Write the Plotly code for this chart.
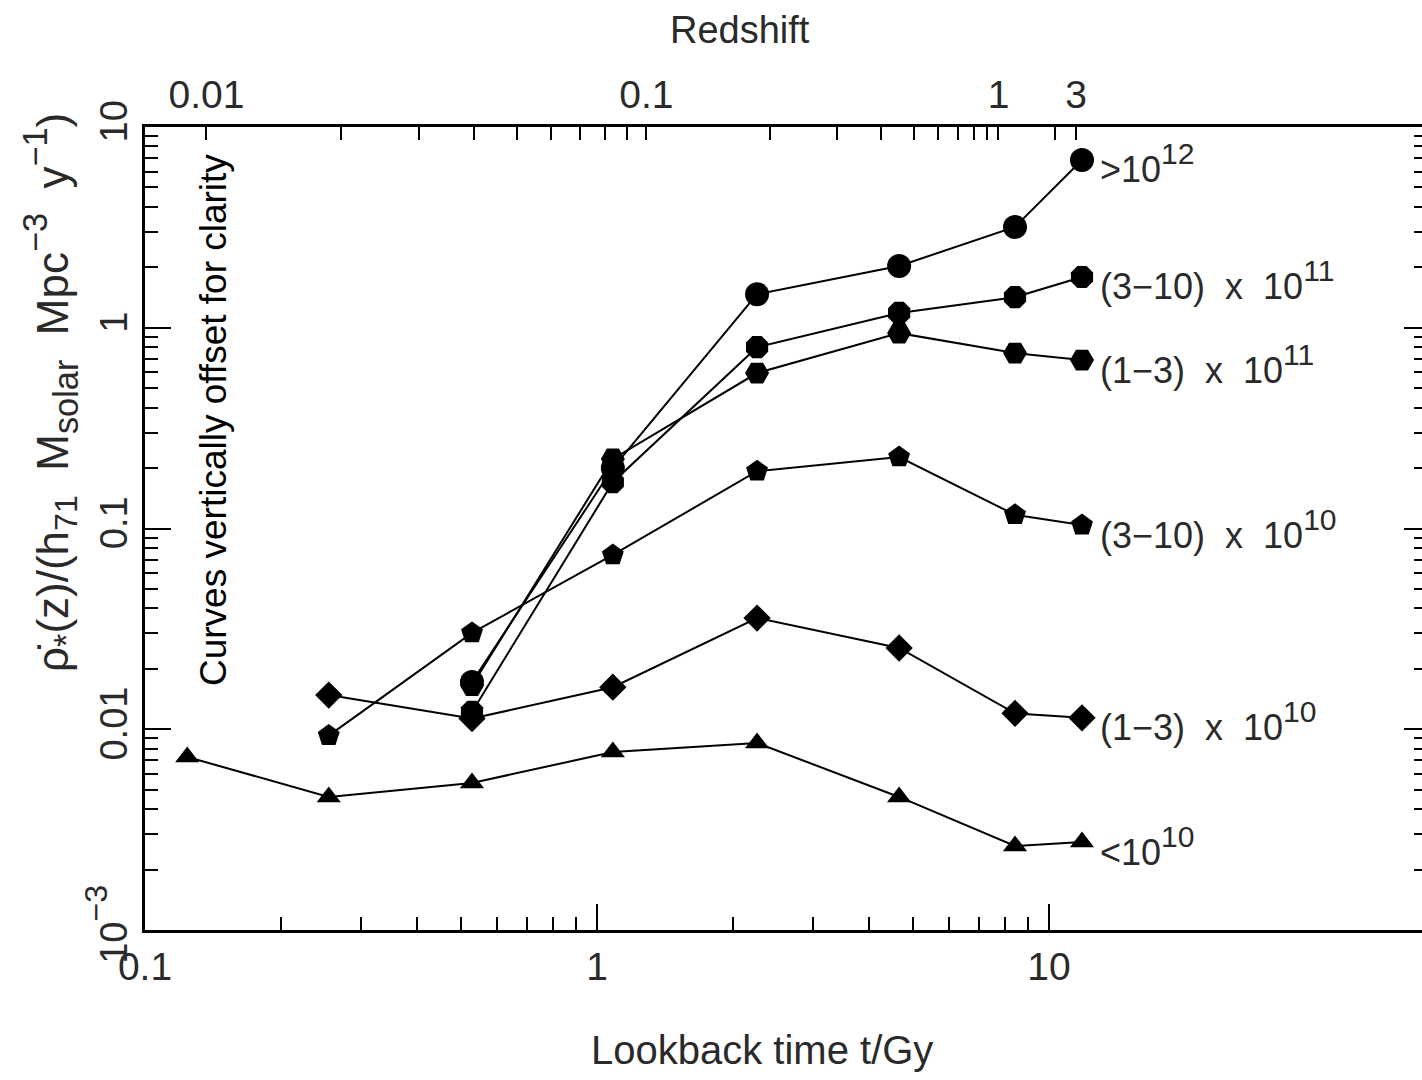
import numpy as np
import plotly.graph_objects as go

# ---------------- data ----------------
lookback_gyr = [0.124, 0.255, 0.529, 1.084, 2.26, 4.66, 8.41, 11.83]

sfr_lt_1e10 = [0.00728, 0.0046, 0.0054, 0.0077, 0.00854, 0.0046, 0.00262, 0.00274]
sfr_1_3e10 = [None, 0.0148, 0.0113, 0.0162, 0.0358, 0.0254, 0.0120, 0.0114]
sfr_3_10e10 = [None, 0.0093, 0.0302, 0.0738, 0.193, 0.227, 0.117, 0.104]
sfr_1_3e11 = [None, None, 0.0165, 0.222, 0.595, 0.94, 0.748, 0.69]
sfr_3_10e11 = [None, None, 0.0122, 0.170, 0.80, 1.185, 1.42, 1.79]
sfr_gt_1e12 = [None, None, 0.0172, 0.200, 1.47, 2.03, 3.18, 6.85]


def sup(s, size=30):
    # plotly renders <sup> at 70% of the surrounding size
    return "<span style='font-size:%dpx'><sup>%s</sup></span>" % (round(size / 0.7), s)


def sub(s, size=30):
    return "<span style='font-size:%dpx'><sub>%s</sub></span>" % (round(size / 0.7), s)


NB = "\u00a0"
series_labels = [">10" + sup("12"),
                 "(3\u221210)" + NB * 2 + "x" + NB * 2 + "10" + sup("11"),
                 "(1\u22123)" + NB * 2 + "x" + NB * 2 + "10" + sup("11"),
                 "(3\u221210)" + NB * 2 + "x" + NB * 2 + "10" + sup("10"),
                 "(1\u22123)" + NB * 2 + "x" + NB * 2 + "10" + sup("10"),
                 "<10" + sup("10")]

x_major = [0.1, 1, 10]
x_major_text = ["0.1", "1", "10"]
y_major = [0.001, 0.01, 0.1, 1, 10]
y_major_text = ["10" + sup("\u22123", 32), "0.01", "0.1", "1", "10"]

z_ticks = [0.01, 0.02, 0.03, 0.04, 0.05, 0.06, 0.07, 0.08, 0.09,
           0.1, 0.2, 0.3, 0.4, 0.5, 0.6, 0.7, 0.8, 0.9, 1, 2, 3]
z_labeled = {0.01: "0.01", 0.1: "0.1", 1: "1", 3: "3"}

# ---------------- cosmology for the redshift axis ----------------
H0, Om = 71.0, 0.27
hubble_time = 977.8 / H0  # Gyr


def lookback(z):
    zz = np.linspace(0, z, 4000)
    integrand = 1.0 / ((1 + zz) * np.sqrt(Om * (1 + zz) ** 3 + (1 - Om)))
    return hubble_time * np.trapezoid(integrand, zz)


z_tick_t = [lookback(z) for z in z_ticks]
z_tick_text = [z_labeled.get(z, "") for z in z_ticks]

minor_decade = [2, 3, 4, 5, 6, 7, 8, 9]
x_minor = [m * d for d in [0.1, 1] for m in minor_decade]
y_minor = [m * d for d in [0.001, 0.01, 0.1, 1] for m in minor_decade]

FONT = "Liberation Sans, Arial, sans-serif"
TXT = "#2a2a2a"

fig = go.Figure()

series = [
    (sfr_gt_1e12, "circle", 24),
    (sfr_3_10e11, "octagon", 24),
    (sfr_1_3e11, "hexagon2", 24),
    (sfr_3_10e10, "pentagon", 23),
    (sfr_1_3e10, "diamond", 21),
    (sfr_lt_1e10, "triangle-up", 21),
]

for (vals, sym, size), lab in zip(series, series_labels):
    xs = [t for t, v in zip(lookback_gyr, vals) if v is not None]
    ys = [v for v in vals if v is not None]
    fig.add_trace(go.Scatter(
        x=xs, y=ys, mode="lines+markers",
        line=dict(color="black", width=2),
        marker=dict(symbol=sym, size=size, color="black", line=dict(width=0)),
        showlegend=False, hoverinfo="skip"))
    fig.add_annotation(x=np.log10(xs[-1]), y=np.log10(ys[-1]), xref="x", yref="y",
                       text=lab, showarrow=False, xanchor="left", yanchor="middle",
                       xshift=16, yshift=-4,
                       font=dict(family=FONT, size=36, color=TXT))

# dummy traces for the secondary axes
fig.add_trace(go.Scatter(x=[None], y=[None], xaxis="x2", yaxis="y", showlegend=False, hoverinfo="skip"))
fig.add_trace(go.Scatter(x=[None], y=[None], xaxis="x", yaxis="y2", showlegend=False, hoverinfo="skip"))

xr = [-1, -1 + 1277 / 452]

fig.update_layout(
    width=1422, height=1080,
    margin=dict(l=145, r=0, t=127, b=150),
    paper_bgcolor="white", plot_bgcolor="white",
    xaxis=dict(type="log", range=xr, showline=True, linecolor="black", linewidth=3,
               mirror=False, showgrid=False, zeroline=False,
               ticks="inside", ticklen=26, tickwidth=2, tickcolor="black",
               tickvals=x_major, ticktext=x_major_text,
               tickfont=dict(family=FONT, size=39, color=TXT),
               minor=dict(tickvals=x_minor, ticks="inside", ticklen=13, tickwidth=2,
                          tickcolor="black", showgrid=False)),
    xaxis2=dict(type="log", range=xr, overlaying="x", side="top", anchor="y",
                showline=True, linecolor="black", linewidth=3, showgrid=False, zeroline=False,
                ticks="inside", ticklen=13, tickwidth=2, tickcolor="black",
                tickvals=z_tick_t, ticktext=z_tick_text,
                tickfont=dict(family=FONT, size=39, color=TXT)),
    yaxis=dict(type="log", range=[-3, 1], showline=True, linecolor="black", linewidth=3,
               mirror=False, showgrid=False, zeroline=False,
               ticks="inside", ticklen=26, tickwidth=2, tickcolor="black",
               tickvals=y_major, ticktext=y_major_text, tickangle=-90,
               tickfont=dict(family=FONT, size=38, color=TXT),
               minor=dict(tickvals=y_minor, ticks="inside", ticklen=13, tickwidth=2,
                          tickcolor="black", showgrid=False)),
    yaxis2=dict(type="log", range=[-3, 1], overlaying="y", side="right", anchor="x",
                showline=False, showgrid=False, zeroline=False, showticklabels=False,
                ticks="inside", ticklen=18, tickwidth=2, tickcolor="black",
                tickvals=y_major,
                minor=dict(tickvals=y_minor, ticks="inside", ticklen=8, tickwidth=2,
                           tickcolor="black", showgrid=False)),
)

# axis titles and note
fig.add_annotation(xref="paper", yref="paper", x=(762 - 145) / 1277, y=(930 - 1050) / 803,
                   text="Lookback time t/Gy", showarrow=False, xanchor="center", yanchor="middle",
                   font=dict(family=FONT, size=40, color=TXT))
fig.add_annotation(xref="paper", yref="paper", x=(740 - 145) / 1277, y=(930 - 30) / 803,
                   text="Redshift", showarrow=False, xanchor="center", yanchor="middle",
                   font=dict(family=FONT, size=38, color=TXT))
ytitle = ("\u03c1\u0307" + sub("*", 34) + "(z)/(h" + sub("71", 32)
          + NB * 2 + "M" + sub("solar", 34) + NB * 2
          + "Mpc" + sup("\u22123", 34) + NB * 2 + "y" + sup("\u22121", 34) + ")")
fig.add_annotation(xref="paper", yref="paper", x=(50 - 145) / 1277, y=(930 - 393) / 803,
                   text=ytitle,
                   textangle=-90, showarrow=False, xanchor="center", yanchor="middle",
                   font=dict(family=FONT, size=44, color=TXT))
fig.add_annotation(xref="paper", yref="paper", x=(213 - 145) / 1277, y=(930 - 420) / 803,
                   text="Curves vertically offset for clarity",
                   textangle=-90, showarrow=False, xanchor="center", yanchor="middle",
                   font=dict(family="Liberation Sans, Arial, sans-serif", size=37, color="black"))

fig.write_html("out.html")
